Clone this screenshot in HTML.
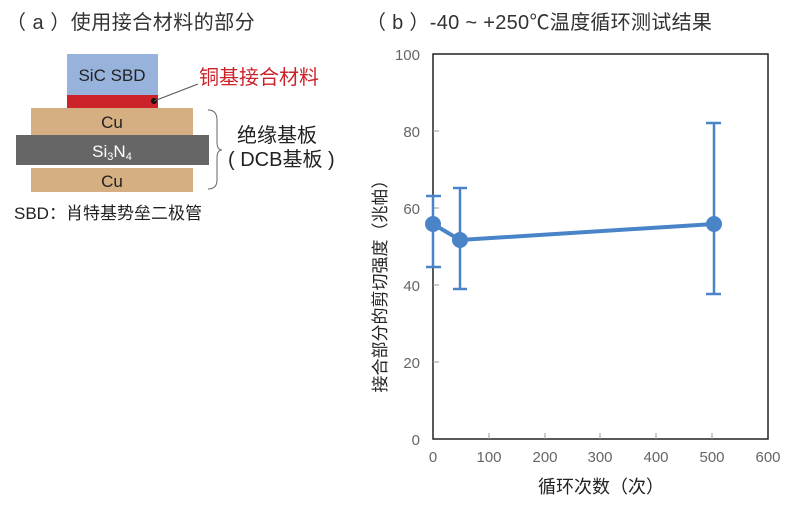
<!DOCTYPE html>
<html><head><meta charset="utf-8"><style>
body{margin:0;background:#fff;width:800px;height:515px;overflow:hidden}
svg text{font-family:"Liberation Sans","Noto Sans CJK SC",sans-serif}
</style></head><body>
<svg width="800" height="515" viewBox="0 0 800 515">
<text x="6" y="29" font-size="20" fill="#333" letter-spacing="0.5">（ a ）使用接合材料的部分</text>
<rect x="67" y="54" width="91" height="41" fill="#97b3dc"/>
<text x="112" y="81" font-size="17" fill="#222" text-anchor="middle">SiC SBD</text>
<rect x="67" y="95" width="91" height="13" fill="#cc2229"/>
<circle cx="154" cy="101" r="3" fill="#111"/>
<line x1="154" y1="101" x2="198" y2="84" stroke="#555" stroke-width="1"/>
<text x="199" y="84" font-size="20" fill="#cc2229">铜基接合材料</text>
<rect x="31" y="108" width="162" height="27" fill="#d5ae82"/>
<text x="112" y="128" font-size="17" fill="#222" text-anchor="middle">Cu</text>
<rect x="16" y="135" width="193" height="30" fill="#666"/>
<text x="112" y="157" font-size="17" fill="#fff" text-anchor="middle">Si<tspan font-size="11" dy="3">3</tspan><tspan dy="-3">N</tspan><tspan font-size="11" dy="3">4</tspan></text>
<rect x="31" y="168" width="162" height="24" fill="#d5ae82"/>
<text x="112" y="187" font-size="17" fill="#222" text-anchor="middle">Cu</text>
<path d="M208,110 Q217,110 217,120 L217,142 Q217,150 222,150 Q217,150 217,158 L217,180 Q217,189 208,189" fill="none" stroke="#666" stroke-width="1"/>
<text x="237" y="142" font-size="20" fill="#222">绝缘基板</text>
<text x="228" y="166" font-size="20" fill="#222">( DCB基板 )</text>
<text x="14" y="219" font-size="17" fill="#222">SBD：肖特基势垒二极管</text>

<text x="366" y="29" font-size="20" fill="#333" letter-spacing="0.3">（ b ）-40 ~ +250℃温度循环测试结果</text>
<rect x="433" y="54" width="335" height="385" fill="none" stroke="#222" stroke-width="1.5"/>
<g font-size="15" fill="#666" text-anchor="end">
<text x="420" y="60">100</text><text x="420" y="137">80</text><text x="420" y="214">60</text><text x="420" y="291">40</text><text x="420" y="368">20</text><text x="420" y="445">0</text>
</g>
<g stroke="#999" stroke-width="1">
<line x1="433" y1="131" x2="439" y2="131"/><line x1="433" y1="208" x2="439" y2="208"/><line x1="433" y1="285" x2="439" y2="285"/><line x1="433" y1="362" x2="439" y2="362"/>
<line x1="489" y1="439" x2="489" y2="433"/><line x1="545" y1="439" x2="545" y2="433"/><line x1="600" y1="439" x2="600" y2="433"/><line x1="656" y1="439" x2="656" y2="433"/><line x1="712" y1="439" x2="712" y2="433"/>
</g>
<g font-size="15" fill="#666" text-anchor="middle">
<text x="433" y="462">0</text><text x="489" y="462">100</text><text x="545" y="462">200</text><text x="600" y="462">300</text><text x="656" y="462">400</text><text x="712" y="462">500</text><text x="768" y="462">600</text>
</g>
<text x="601" y="493" font-size="18" fill="#222" text-anchor="middle">循环次数（次）</text>
<text transform="translate(386,282) rotate(-90)" font-size="17" fill="#222" text-anchor="middle">接合部分的剪切强度（兆帕）</text>
<g stroke="#4a84c8" stroke-width="2.5" fill="none">
<line x1="433" y1="196" x2="433" y2="267"/><line x1="426" y1="196" x2="441" y2="196"/><line x1="426" y1="267" x2="441" y2="267"/>
<line x1="460" y1="188" x2="460" y2="289"/><line x1="453" y1="188" x2="467" y2="188"/><line x1="453" y1="289" x2="467" y2="289"/>
<line x1="714" y1="123" x2="714" y2="294"/><line x1="706" y1="123" x2="721" y2="123"/><line x1="706" y1="294" x2="721" y2="294"/>
<polyline points="433,224 460,240 714,224" stroke-width="4"/>
</g>
<g fill="#4a84c8"><circle cx="433" cy="224" r="8"/><circle cx="460" cy="240" r="8"/><circle cx="714" cy="224" r="8"/></g>
</svg>
</body></html>
